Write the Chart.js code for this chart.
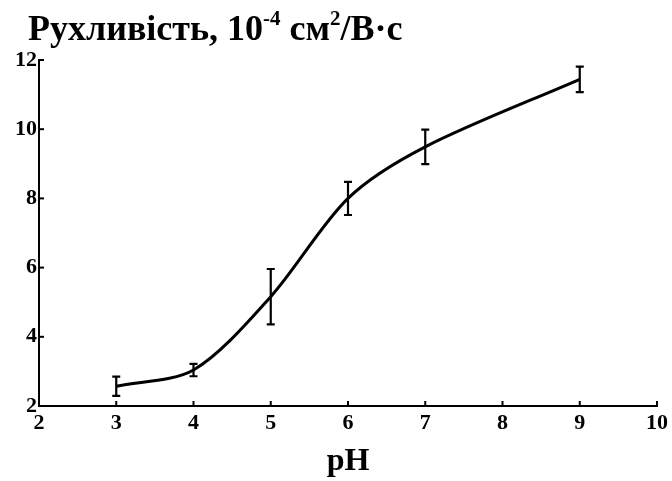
<!DOCTYPE html>
<html>
<head>
<meta charset="utf-8">
<script src="https://cdn.jsdelivr.net/npm/chart.js@4"></script>
<style>
html,body{margin:0;padding:0;background:#fff;}
#wrap{width:672px;height:481px;position:relative;}
</style>
</head>
<body>
<div id="wrap"><canvas id="c" width="672" height="481"></canvas></div>
<script>
const pHValues = [3, 4, 5, 6, 7, 9];
const mobility = [2.57, 3.04, 5.16, 8.0, 9.49, 11.44];
const errors = [0.28, 0.18, 0.8, 0.48, 0.5, 0.37];
const xTicks = [2, 3, 4, 5, 6, 7, 8, 9, 10];
const yTicks = [2, 4, 6, 8, 10, 12];
const titleParts = [["Рухливість, 10", false], ["-4", true], [" см", false], ["2", true], ["/В·с", false]];
const xTitle = "pH";

const FONT = "'Liberation Serif', 'Times New Roman', serif";

const errorBars = {
  id: 'errorBars',
  afterDatasetsDraw(chart) {
    const ctx = chart.ctx, xs = chart.scales.x, ys = chart.scales.y;
    ctx.save();
    ctx.strokeStyle = '#000';
    ctx.lineWidth = 2.2;
    pHValues.forEach((p, i) => {
      const x = xs.getPixelForValue(p);
      const yt = ys.getPixelForValue(mobility[i] + errors[i]);
      const yb = ys.getPixelForValue(mobility[i] - errors[i]);
      ctx.beginPath();
      ctx.moveTo(x, yt); ctx.lineTo(x, yb);
      ctx.moveTo(x - 4, yt); ctx.lineTo(x + 4, yt);
      ctx.moveTo(x - 4, yb); ctx.lineTo(x + 4, yb);
      ctx.stroke();
    });
    // inward tick marks
    ctx.lineWidth = 2;
    xTicks.forEach(v => {
      const x = xs.getPixelForValue(v);
      ctx.beginPath(); ctx.moveTo(x, xs.top); ctx.lineTo(x, xs.top - 5); ctx.stroke();
    });
    yTicks.forEach(v => {
      const y = ys.getPixelForValue(v);
      ctx.beginPath(); ctx.moveTo(ys.right, y); ctx.lineTo(ys.right + 5, y); ctx.stroke();
    });
    // title with superscripts
    let x = 28;
    const base = 40;
    ctx.fillStyle = '#000';
    ctx.textBaseline = 'alphabetic';
    titleParts.forEach(([t, sup]) => {
      ctx.font = sup ? ('bold 21px ' + FONT) : ('bold 36px ' + FONT);
      ctx.fillText(t, x, sup ? base - 15 : base);
      x += ctx.measureText(t).width;
    });
    ctx.restore();
  }
};

new Chart(document.getElementById('c'), {
  type: 'line',
  data: {
    datasets: [{
      data: pHValues.map((p, i) => ({x: p, y: mobility[i]})),
      borderColor: '#000',
      borderWidth: 3,
      pointRadius: 0,
      tension: 0.3,
      fill: false
    }]
  },
  plugins: [errorBars],
  options: {
    responsive: false,
    animation: false,
    layout: { padding: { top: 60, right: 0, left: 0, bottom: 0 } },
    plugins: { legend: { display: false }, tooltip: { enabled: false } },
    scales: {
      x: {
        type: 'linear', min: 2, max: 10,
        afterBuildTicks: s => { s.ticks = xTicks.map(v => ({value: v})); },
        grid: { display: false, drawTicks: false },
        border: { display: true, color: '#000', width: 2 },
        ticks: { color: '#000', padding: 4, font: { family: FONT, size: 22, weight: 'bold' } },
        title: { display: true, text: xTitle, color: '#000', padding: { top: 12, bottom: 0 },
                 font: { family: FONT, size: 32, weight: 'bold' } },
        afterFit: s => { s.height = 75; }
      },
      y: {
        type: 'linear', min: 2, max: 12,
        afterBuildTicks: s => { s.ticks = yTicks.map(v => ({value: v})); },
        grid: { display: false, drawTicks: false },
        border: { display: true, color: '#000', width: 2 },
        ticks: { color: '#000', padding: 2, font: { family: FONT, size: 22, weight: 'bold' } },
        afterFit: s => { s.width = 39; }
      }
    }
  }
});
</script>
</body>
</html>
